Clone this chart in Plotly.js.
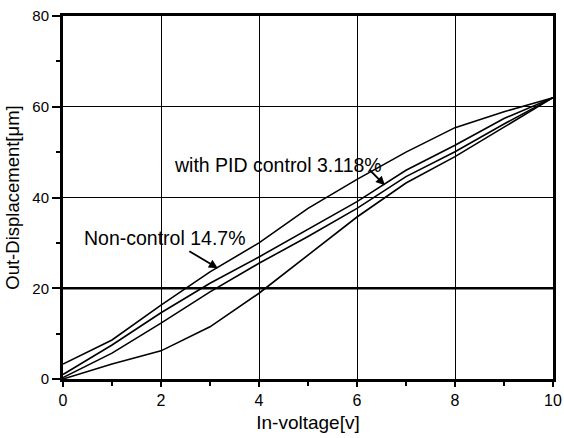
<!DOCTYPE html>
<html>
<head>
<meta charset="utf-8">
<script src="https://cdn.plot.ly/plotly-3.0.1.min.js"></script>
<style>html,body{margin:0;padding:0;background:#fff}#chart{width:564px;height:438px}</style>
</head>
<body>
<div id="chart"></div>
<script>
// In-voltage [V]
var voltUp = [0, 1, 2, 3, 4, 5, 6, 7, 8, 9, 10];
var voltDown = [10, 9, 8, 7, 6, 5, 4, 3, 2, 1, 0];
// Non-control loop (hysteresis 14.7%)
var nonCtrlUp = [0, 3.3, 6.2, 11.5, 18.9, 27.4, 35.7, 43.2, 49.0, 55.5, 62];
var nonCtrlDown = [62, 58.9, 55.4, 50.0, 44.0, 37.6, 30.0, 23.6, 16.3, 8.6, 3.3];
// With PID control loop (3.118%)
var pidUp = [0.3, 5.7, 12.3, 19.2, 25.5, 31.4, 37.6, 44.6, 50.1, 56.2, 62];
var pidDown = [62, 57.4, 51.5, 46.0, 39.1, 33.0, 26.9, 21.1, 14.6, 7.5, 1.0];

var xTicks = [0, 2, 4, 6, 8, 10];
var yTicks = [0, 20, 40, 60, 80];
var labelPid = "with PID control 3.118%";
var labelNon = "Non-control 14.7%";

var lineStyle = {color: "#000", width: 1.6};
function tr(x, y) {
  return {x: x, y: y, type: "scatter", mode: "lines", line: lineStyle, hoverinfo: "skip", showlegend: false};
}
var data = [
  tr(voltUp, nonCtrlUp),
  tr(voltDown, nonCtrlDown),
  tr(voltUp, pidUp),
  tr(voltDown, pidDown)
];

var font = "Liberation Sans, Arial, sans-serif";
var layout = {
  width: 564, height: 438,
  margin: {l: 63, r: 11, t: 16, b: 59},
  paper_bgcolor: "#fff", plot_bgcolor: "#fff",
  font: {family: font, color: "#000"},
  showlegend: false,
  xaxis: {
    range: [0, 10], tickvals: xTicks, ticktext: xTicks.map(String),
    showgrid: true, gridcolor: "#000", gridwidth: 1,
    zeroline: false, showline: true, linecolor: "#000", linewidth: 3, mirror: true,
    ticks: "outside", ticklen: 5, tickwidth: 2, tickcolor: "#000",
    minor: {dtick: 1, ticks: "outside", ticklen: 4, tickwidth: 2, tickcolor: "#000", showgrid: false},
    tickfont: {size: 16, family: font},
    title: {text: "In-voltage[v]", font: {size: 19, family: font}, standoff: 8},
    automargin: false, fixedrange: true
  },
  yaxis: {
    range: [0, 80], tickvals: yTicks, ticktext: yTicks.map(String),
    showgrid: true, gridcolor: "#000", gridwidth: 1,
    zeroline: false, showline: true, linecolor: "#000", linewidth: 3, mirror: true,
    ticks: "outside", ticklen: 8, tickwidth: 2, tickcolor: "#000",
    minor: {dtick: 10, ticks: "outside", ticklen: 4, tickwidth: 2, tickcolor: "#000", showgrid: false},
    tickfont: {size: 15, family: font},
    title: {text: "Out-Displacement[μm]", font: {size: 18.5, family: font}, standoff: 8},
    automargin: false, fixedrange: true
  },
  shapes: [
    {type: "line", xref: "paper", x0: 0, x1: 1, yref: "y", y0: 20, y1: 20, line: {color: "#000", width: 2.5}, layer: "below"}
  ],
  annotations: [
    {x: 2.22, y: 47.1, xref: "x", yref: "y", text: labelPid, showarrow: false, xanchor: "left", yanchor: "middle",
     font: {size: 19.5, family: font, color: "#000"}},
    {x: 6.57, y: 42.7, xref: "x", yref: "y", text: "", showarrow: true, ax: -17, ay: -17,
     arrowhead: 2, arrowsize: 1, arrowwidth: 1.8, arrowcolor: "#000"},
    {x: 0.39, y: 31.1, xref: "x", yref: "y", text: labelNon, showarrow: false, xanchor: "left", yanchor: "middle",
     font: {size: 19.5, family: font, color: "#000"}},
    {x: 3.16, y: 24.4, xref: "x", yref: "y", text: "", showarrow: true, ax: -30, ay: -18,
     arrowhead: 2, arrowsize: 1, arrowwidth: 1.8, arrowcolor: "#000"}
  ]
};
Plotly.newPlot("chart", data, layout, {staticPlot: true, displayModeBar: false});
</script>
</body>
</html>
